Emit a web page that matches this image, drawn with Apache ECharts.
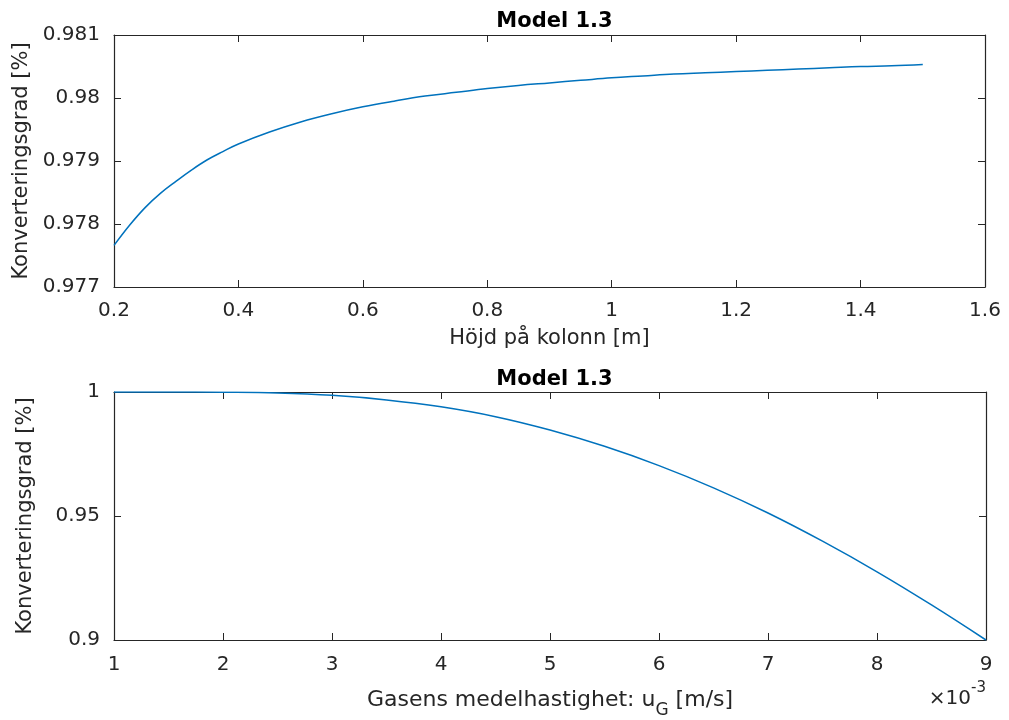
<!DOCTYPE html>
<html>
<head>
<meta charset="utf-8">
<script src="https://cdn.jsdelivr.net/npm/echarts@6/dist/echarts.min.js"></script>
<style>
html,body{margin:0;padding:0;background:#fff;}
#c{width:1009px;height:720px;}
</style>
</head>
<body>
<div id="c"></div>
<script>
// ---- Data ----
var titleTop = 'Model 1.3';
var titleBottom = 'Model 1.3';

// Top plot: conversion vs column height [m]
var heightX = [0.2, 0.225, 0.25, 0.275, 0.3, 0.325, 0.35, 0.375, 0.4, 0.45, 0.5, 0.55, 0.6, 0.65, 0.7, 0.75, 0.8, 0.85, 0.9, 0.95, 1.0, 1.05, 1.1, 1.15, 1.2, 1.25, 1.3, 1.35, 1.4, 1.45, 1.5];
var heightY = [0.97766, 0.97798, 0.97826, 0.97849, 0.97868, 0.97886, 0.97902, 0.97915, 0.97927, 0.97946, 0.97962, 0.97975, 0.97986, 0.97995, 0.98003, 0.98009, 0.98015, 0.98020, 0.98024, 0.98028, 0.98032, 0.98035, 0.98038, 0.98040, 0.98042, 0.98044, 0.98046, 0.98048, 0.98050, 0.98051, 0.98053];

// Bottom plot: conversion vs mean gas velocity u_G [x10^-3 m/s]
var velocityX = [1, 1.5, 2, 2.5, 3, 3.5, 4, 4.5, 5, 5.5, 6, 6.5, 7, 7.5, 8, 8.5, 9];
var velocityY = [1.0000, 0.99998, 0.99990, 0.99960, 0.99866, 0.99681, 0.99402, 0.99004, 0.98466, 0.97809, 0.97032, 0.96135, 0.95120, 0.93984, 0.92749, 0.91414, 0.90000];

// Axis ranges / tick steps
var topXRange = [0.2, 1.6], topXStep = 0.2;
var topYRange = [0.977, 0.981], topYStep = 0.001;
var botXRange = [1, 9], botXStep = 1;
var botYRange = [0.9, 1], botYStep = 0.05;

var yLabel = 'Konverteringsgrad [%]';
var topXLabel = 'Höjd på kolonn [m]';

// ---- Styling ----
var FONT = '"DejaVu Sans", Verdana, sans-serif';
var AX = '#262626';
var LINE = '#0072BD';
var FS = 20;   // tick labels
var FN = 21;   // axis names

function zip(xs, ys){ var o=[]; for(var i=0;i<xs.length;i++) o.push([xs[i], ys[i]]); return o; }

function axisBase(gridIndex, pos, range, step, showLabel, fmt){
  return {
    type:'value', gridIndex:gridIndex, position:pos,
    min:range[0], max:range[1], interval:step,
    axisLine:{show:true, onZero:false, lineStyle:{color:AX, width:1.2}},
    axisTick:{show:true, inside:true, length:7, lineStyle:{color:AX, width:1}},
    splitLine:{show:false},
    axisLabel:{show:showLabel, color:AX, fontFamily:FONT, fontSize:FS, formatter:fmt},
    nameTextStyle:{color:AX, fontFamily:FONT, fontSize:FN}
  };
}
function f(d){ return function(v){ return String(+v.toFixed(d)); }; }

var xTop = axisBase(0,'bottom',topXRange,topXStep,true,f(1));
xTop.axisLabel.margin = 14;
xTop.name = topXLabel; xTop.nameLocation='middle'; xTop.nameGap = 41;
var xTop2 = axisBase(0,'top',topXRange,topXStep,false,f(1));

var xBot = axisBase(1,'bottom',botXRange,botXStep,true,f(0));
xBot.axisLabel.margin = 15;
xBot.name = '{a|Gasens medelhastighet: u}{s|G}{a| [m/s]}';
xBot.nameLocation='middle'; xBot.nameGap = 42;
xBot.nameTextStyle.rich = {
  a:{fontFamily:FONT, fontSize:22, color:AX},
  s:{fontFamily:FONT, fontSize:17, color:AX, padding:[20,0,0,0]}
};
var xBot2 = axisBase(1,'top',botXRange,botXStep,false,f(0));

var yTop = axisBase(0,'left',topYRange,topYStep,true,f(3));
yTop.axisLabel.margin = 14;
yTop.name = yLabel; yTop.nameLocation='middle'; yTop.nameGap = 78; yTop.nameRotate = 90;
var yTop2 = axisBase(0,'right',topYRange,topYStep,false,f(3));

var yBot = axisBase(1,'left',botYRange,botYStep,true,f(2));
yBot.axisLabel.margin = 14;
yBot.name = yLabel; yBot.nameLocation='middle'; yBot.nameGap = 78; yBot.nameRotate = 90;
var yBot2 = axisBase(1,'right',botYRange,botYStep,false,f(2));

var chart = echarts.init(document.getElementById('c'), null, {renderer:'canvas'});
chart.setOption({
  backgroundColor:'#ffffff',
  animation:false,
  title:[
    {text:titleTop, left:549.5, top:6, textAlign:'center', textStyle:{fontFamily:FONT, fontSize:FN, fontWeight:'bold', color:'#000'}},
    {text:titleBottom, left:549.5, top:364, textAlign:'center', textStyle:{fontFamily:FONT, fontSize:FN, fontWeight:'bold', color:'#000'}}
  ],
  grid:[
    {left:114, top:35, width:871, height:252, containLabel:false},
    {left:114, top:392, width:872, height:251, containLabel:false}
  ],
  xAxis:[xTop, xTop2, xBot, xBot2],
  yAxis:[yTop, yTop2, yBot, yBot2],
  graphic:[{
    type:'text', right:1009-986, top:681,
    style:{
      text:'{a|×10}{s|-3}',
      rich:{
        a:{fontFamily:FONT, fontSize:FS, fill:AX, padding:[10,0,0,0]},
        s:{fontFamily:FONT, fontSize:15, fill:AX, padding:[0,0,10,0]}
      }
    }
  }],
  series:[
    {type:'line', xAxisIndex:0, yAxisIndex:0, data:zip(heightX, heightY), showSymbol:false, smooth:0.4,
     lineStyle:{color:LINE, width:1.5}, itemStyle:{color:LINE}},
    {type:'line', xAxisIndex:2, yAxisIndex:2, data:zip(velocityX, velocityY), showSymbol:false, smooth:0.4,
     lineStyle:{color:LINE, width:1.5}, itemStyle:{color:LINE}}
  ]
});
</script>
</body>
</html>
